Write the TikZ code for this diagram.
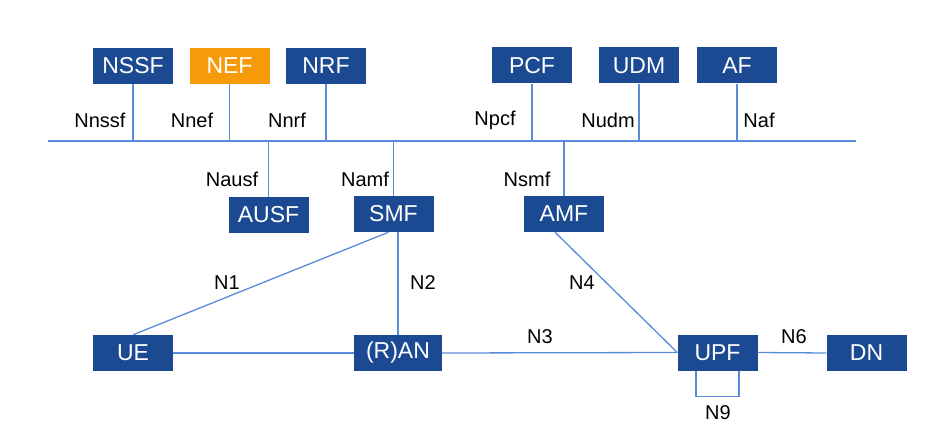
\documentclass[tikz,border=0pt]{standalone}
\usepackage{fontspec}
\setmainfont{Liberation Sans}
\usepackage{tikz}
\usetikzlibrary{positioning}
\definecolor{nfblue}{HTML}{1C4A92}
\definecolor{nforange}{HTML}{F79A0A}
\definecolor{linkblue}{HTML}{5A8BDA}

\begin{document}
\begin{tikzpicture}[
    x=1pt, y=-1pt,
    nf/.style={fill=nfblue, text=white, minimum width=80pt, minimum height=36pt,
      inner sep=0pt, font=\fontsize{23}{25}\selectfont},
    lbl/.style={font=\fontsize{20}{22}\selectfont, inner sep=0pt},
    link/.style={draw=linkblue, line width=1.3pt}
]

\useasboundingbox (0,0) rectangle (947,446);

% Funcions de xarxa

\node[nf] (nssf) at (133,66) {NSSF};
\node[nf, fill=nforange] (nef) at (229.5,66) {NEF};
\node[nf] (nrf) at (326,66) {NRF};
\node[nf] (pcf) at (532,65.5) {PCF};
\node[nf] (udm) at (639,65.5) {UDM};
\node[nf] (af) at (737,65.5) {AF};

\node[nf] (ausf) at (268.5,215) {AUSF};
\node[nf] (smf) at (393.5,214) {SMF};
\node[nf] (amf) at (564,214) {AMF};

\node[nf] (ue) at (133,353) {UE};
\node[nf, minimum width=88pt] (ran) at (398,353) {(R)AN};
\node[nf] (upf) at (717.5,352.5) {UPF};
\node[nf] (dn) at (866.5,353) {DN};

% Bus

\coordinate (busL) at (48,141);
\coordinate (busR) at (856,141);
\draw[link] (busL) -- (busR);

\foreach \n in {nssf, nef, nrf, pcf, udm, af}
  \draw[link] (\n.south) -- (\n.south |- busL);

\foreach \n in {ausf, smf, amf}
  \draw[link] (\n.north) -- (\n.north |- busL);

% Interfícies

\draw[link] ([xshift=-5pt]smf.south) -- (ue.north);
\draw[link] (ran.north) -- (ran.north |- smf.south);
\draw[link] ([xshift=-9pt]amf.south) -- (upf.west);
\draw[link] (ue.east) -- (ran.west);
\draw[link] (ran.east) -- (upf.west);
\draw[link] (upf.east) -- (dn.west);
\draw[link] ([xshift=-21.5pt]upf.south) -- ++(0,26) -| ([xshift=21.5pt]upf.south);

% Etiquetes

\node[lbl] (lnssf) at (100,120) {Nnssf};
\node[lbl] (lnef) at (192,120) {Nnef};
\node[lbl] (lnrf) at (287,120) {Nnrf};
\node[lbl] (lnpcf) at (495,120) {Npcf};
\node[lbl] (lnudm) at (608,120) {Nudm};
\node[lbl] (lnaf) at (759,120) {Naf};

\node[lbl] (lnausf) at (232,179) {Nausf};
\node[lbl] (lnamf) at (365,179) {Namf};
\node[lbl] (lnsmf) at (527,179) {Nsmf};

\node[lbl] (ln1) at (227,283) {N1};
\node[lbl] (ln2) at (423,283) {N2};
\node[lbl] (ln4) at (582,283) {N4};
\node[lbl] (ln3) at (540,337) {N3};
\node[lbl] (ln6) at (794,337) {N6};
\node[lbl] (ln9) at (718,413) {N9};

\end{tikzpicture}
\end{document}
